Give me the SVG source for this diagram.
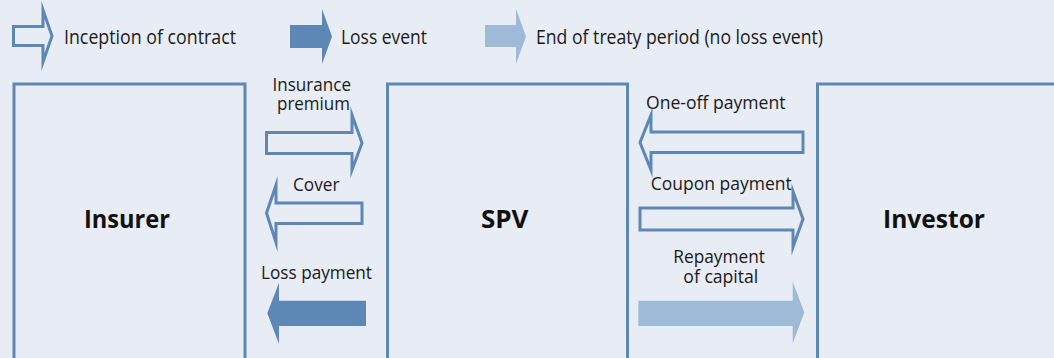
<svg xmlns="http://www.w3.org/2000/svg" width="1054" height="358" viewBox="0 0 1054 358">
<style>
.bg{fill:#e8ecf5}
.box{fill:#e8ecf5;stroke:#5d87b4;stroke-width:3}
.ao{fill:#e8ecf5;stroke:#5d87b4;stroke-width:3;stroke-linejoin:miter;stroke-miterlimit:20}
.af{fill:#5d87b4}
.al{fill:#9fbad6}
.t{font-family:"Open Sans","Noto Sans","Liberation Sans",sans-serif;font-size:19px;fill:#1a1a1a}
.lg{font-size:20px}
.b{font-family:"Open Sans","Noto Sans","Liberation Sans",sans-serif;font-size:25px;font-weight:bold;fill:#111}
</style>
<rect class="bg" x="0" y="0" width="1054" height="358"/>
<g id="legend">
  <path class="ao" d="M13.5,26.5 H43 V10 L52,36 L43,62 V45.5 H13.5 Z"/>
  <text class="t lg" x="64" y="44" textLength="172" lengthAdjust="spacingAndGlyphs">Inception of contract</text>
  <path class="af" d="M290,25 H322 V9 L332,36.5 L322,64 V48 H290 Z"/>
  <text class="t lg" x="341" y="44" textLength="86" lengthAdjust="spacingAndGlyphs">Loss event</text>
  <path class="al" d="M485,25 H516 V9 L526,36.5 L516,64 V47 H485 Z"/>
  <text class="t lg" x="536" y="44" textLength="287" lengthAdjust="spacingAndGlyphs">End of treaty period (no loss event)</text>
</g>
<g id="insurer">
  <path class="box" d="M14,360 V84 H245 V360"/>
  <text class="b" x="84" y="228" textLength="86" lengthAdjust="spacingAndGlyphs">Insurer</text>
</g>
<g id="spv">
  <path class="box" d="M387.5,360 V84 H627.5 V360"/>
  <text class="b" x="481" y="228" textLength="47.5" lengthAdjust="spacingAndGlyphs">SPV</text>
</g>
<g id="investor">
  <path class="box" d="M817.5,360 V84 H1060"/>
  <text class="b" x="883" y="228" textLength="102" lengthAdjust="spacingAndGlyphs">Investor</text>
</g>
<g id="connectors">
  <path class="ao" d="M266.5,132.5 H352 V115 L362,143 L352,170 V153.5 H266.5 Z"/>
  <text class="t"><tspan x="272.5" y="91" textLength="78.5" lengthAdjust="spacingAndGlyphs">Insurance</tspan><tspan x="277" y="109.5" textLength="73" lengthAdjust="spacingAndGlyphs">premium</tspan></text>
  <path class="ao" d="M362,203 H276 V185 L266.5,213 L276,242.5 V223.5 H362 Z"/>
  <text class="t" x="293" y="190.5" textLength="46.5" lengthAdjust="spacingAndGlyphs">Cover</text>
  <path class="af" d="M366,300.7 H279 V282.7 L267.3,313.3 L279,344 V326 H366 Z"/>
  <text class="t" x="261" y="279" textLength="111" lengthAdjust="spacingAndGlyphs">Loss payment</text>
  <path class="ao" d="M803,132 H651 V115 L640,142.5 L651,170 V152.5 H803 Z"/>
  <text class="t" x="646" y="109.3" textLength="139.5" lengthAdjust="spacingAndGlyphs">One-off payment</text>
  <path class="ao" d="M640,208 H793 V191.5 L803,219 L793,247 V230 H640 Z"/>
  <text class="t" x="650.7" y="190" textLength="141" lengthAdjust="spacingAndGlyphs">Coupon payment</text>
  <path class="al" d="M638.3,300.7 H792.7 V281.7 L804.3,312.5 L792.7,343.3 V326 H638.3 Z"/>
  <text class="t"><tspan x="673.3" y="263.3" textLength="91.7" lengthAdjust="spacingAndGlyphs">Repayment</tspan><tspan x="683.3" y="282.7" textLength="75" lengthAdjust="spacingAndGlyphs">of capital</tspan></text>
</g>
</svg>
